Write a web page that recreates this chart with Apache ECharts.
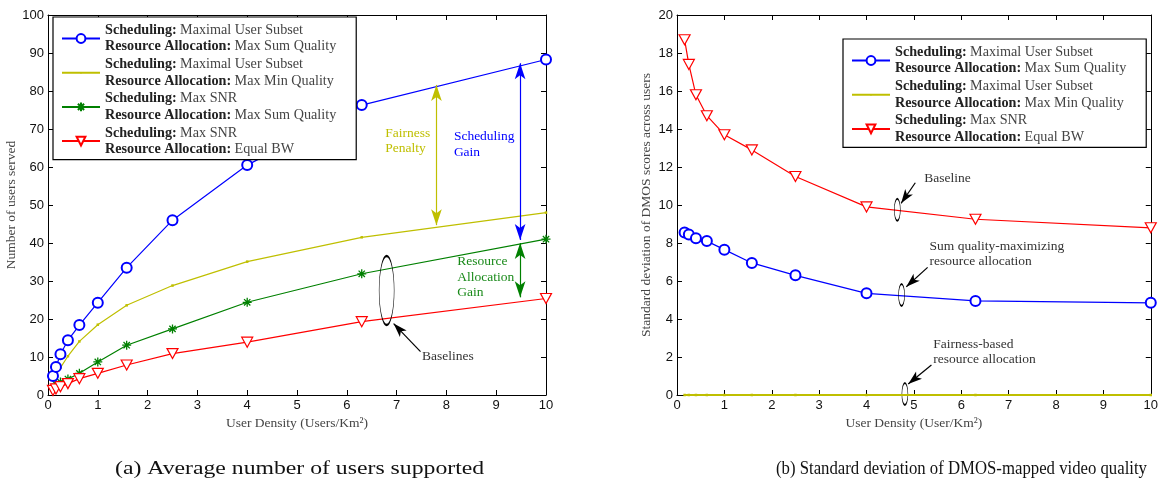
<!DOCTYPE html>
<html><head><meta charset="utf-8">
<script src="https://cdn.jsdelivr.net/npm/echarts@6/dist/echarts.min.js"></script>
<style>html,body{margin:0;padding:0;background:#fff}#c{width:1161px;height:483px}</style>
</head><body><div id="c"></div>
<script>
// ---------- data (a) ----------
const xLeft = [0.1, 0.16, 0.25, 0.4, 0.63, 1, 1.58, 2.5, 4, 6.3, 10];
const blueLeft = [5, 7.4, 10.7, 14.4, 18.4, 24.3, 33.5, 46, 60.5, 76.3, 88.3];
const yellowLeft = [4, 5.3, 7.2, 10.2, 14.1, 18.5, 23.6, 28.8, 35.1, 41.5, 48];
const xGreenLeft = [0.16, 0.25, 0.4, 0.63, 1, 1.58, 2.5, 4, 6.3, 10];
const greenLeft = [2.8, 3.4, 4.2, 5.7, 8.7, 13.1, 17.4, 24.4, 31.9, 41];
const redLeft = [1.2, 1.6, 2.2, 3.0, 4.3, 5.7, 7.9, 10.9, 13.9, 19.3, 25.4];
// ---------- data (b) ----------
const xRight = [0.16, 0.25, 0.4, 0.63, 1, 1.58, 2.5, 4, 6.3, 10];
const blueRight = [8.55, 8.45, 8.25, 8.1, 7.65, 6.95, 6.3, 5.35, 4.95, 4.85];
const yellowRight = [0, 0, 0, 0, 0, 0, 0, 0, 0, 0];
const redRight = [18.7, 17.4, 15.8, 14.7, 13.7, 12.9, 11.5, 9.9, 9.25, 8.8];
// ---------- labels ----------
const legendLeft = [
  ['Maximal User Subset', 'Max Sum Quality'],
  ['Maximal User Subset', 'Max Min Quality'],
  ['Max SNR', 'Max Sum Quality'],
  ['Max SNR', 'Equal BW']
];
const legendRight = [
  ['Maximal User Subset', 'Max Sum Quality'],
  ['Maximal User Subset', 'Max Min Quality'],
  ['Max SNR', 'Equal BW']
];
const captions = ['(a) Average number of users supported', '(b) Standard deviation of DMOS-mapped video quality'];
// ---------- annotations (data coordinates) ----------
const leftDoubleArrows = [[7.8, 81.6, 7.8, 44.7], [9.48, 87.3, 9.48, 40.8], [9.48, 40.0, 9.48, 25.7]];
const leftTexts = [[6.77, 66.9, 'Fairness\nPenalty'], [8.15, 65.9, 'Scheduling\nGain'], [8.22, 31, 'Resource\nAllocation\nGain'], [7.51, 10.1, 'Baselines']];
const leftEllipse = [6.80, 27.5];
const leftPointer = [7.48, 11.4, 6.94, 18.8];
const rightTexts = [[5.22, 11.4, 'Baseline'], [5.33, 7.43, 'Sum quality-maximizing\nresource allocation'], [5.41, 2.26, 'Fairness-based\nresource allocation']];
const rightEllipses = [[4.65, 9.75], [4.74, 5.26], [4.81, 0.05]];
const rightPointers = [[5.03, 11.17, 4.73, 10.09], [5.29, 6.72, 4.84, 5.7], [5.37, 1.58, 4.88, 0.58]];

const BLUE = '#0000ff', YEL = '#bfbf00', GRN = '#008000', RED = '#ff0000';
const SERIF = '"Liberation Serif", "Times New Roman", serif';
const SANS = '"Liberation Sans", Arial, sans-serif';
const STAR = 'path://M0,-5L0,5M-5,0L5,0M-3.5,-3.5L3.5,3.5M-3.5,3.5L3.5,-3.5';
const TRI = 'path://M-5,-4.5L5,-4.5L0,4.5Z';
const DOT = 'path://M-6,-6M6,6M-1,-1L1,-1L1,1L-1,1Z';

const pairs = (xs, ys) => xs.map((x, i) => [x, ys[i]]);

function xAx(grid, top, name) {
  return {
    type: 'value', gridIndex: grid, min: 0, max: 10, interval: 1,
    position: top ? 'top' : 'bottom',
    axisLine: { onZero: false, lineStyle: { color: '#000', width: 1 } },
    axisTick: { inside: true, length: 5, lineStyle: { color: '#000' } },
    axisLabel: { show: !top, color: '#111', fontFamily: SANS, fontSize: 13, margin: 4 },
    splitLine: { show: false },
    name: top ? '' : name, nameLocation: 'middle', nameGap: 21,
    nameTextStyle: { fontFamily: SERIF, fontSize: 13.5, color: '#444' }
  };
}
function yAx(grid, right, max, interval, name, gap) {
  return {
    type: 'value', gridIndex: grid, min: 0, max: max, interval: interval,
    position: right ? 'right' : 'left',
    axisLine: { onZero: false, lineStyle: { color: '#000', width: 1 } },
    axisTick: { inside: true, length: 5, lineStyle: { color: '#000' } },
    axisLabel: { show: !right, color: '#111', fontFamily: SANS, fontSize: 13, margin: 4 },
    splitLine: { show: false },
    name: right ? '' : name, nameLocation: 'middle', nameGap: gap || 0,
    nameTextStyle: { fontFamily: SERIF, fontSize: 13.5, color: '#444' }
  };
}

function legendFmt(list, prefix) {
  return function (name) {
    const i = parseInt(name.slice(prefix.length), 10);
    const e = list[i];
    return '{b|Scheduling:} {n|' + e[0] + '}\n{b|Resource Allocation:} {n|' + e[1] + '}';
  };
}
const legendRich = {
  b: { fontFamily: SERIF, fontWeight: 'bold', fontSize: 14.2, color: '#222', lineHeight: 16.5 },
  n: { fontFamily: SERIF, fontSize: 14.2, color: '#444', lineHeight: 16.5 }
};

function textPoints(list, colors) {
  return list.map((t, i) => ({
    coord: [t[0], t[1]], symbol: 'circle', symbolSize: 0.01,
    label: {
      show: true, position: 'right', distance: 0, align: 'left', verticalAlign: 'middle',
      formatter: t[2], fontFamily: SERIF, fontSize: 13.5, lineHeight: 15.5, color: colors[i]
    }
  }));
}
function ellipsePoints(list, size) {
  return list.map(e => ({
    coord: [e[0], e[1]], symbol: 'circle', symbolSize: size,
    itemStyle: { color: 'rgba(0,0,0,0)', borderColor: '#000', borderWidth: 1.1 },
    label: { show: false }
  }));
}
function arrowLines(list, colors, both) {
  return list.map((a, i) => [
    { coord: [a[0], a[1]], symbol: both ? 'arrow' : 'none', lineStyle: { color: colors[i], width: 1.2, type: 'solid' } },
    { coord: [a[2], a[3]], symbol: 'arrow' }
  ]);
}

const legendBase = {
  orient: 'vertical', z: 10, itemWidth: 38, itemHeight: 11, itemGap: 1.2, padding: [5, 20, 2, 8],
  borderColor: '#000', borderWidth: 1.2, backgroundColor: '#fff',
  textStyle: { rich: legendRich, lineHeight: 16.5 }, selectedMode: false
};

const chart = echarts.init(document.getElementById('c'), null, { renderer: 'canvas' });
const option = {
  animation: false,
  backgroundColor: '#fff',
  grid: [
    { left: 48, top: 15, width: 498, height: 380 },
    { left: 677, top: 15, width: 475, height: 380 }
  ],
  xAxis: [xAx(0, false, 'User Density (Users/Km²)'), xAx(0, true), xAx(1, false, 'User Density (User/Km²)'), xAx(1, true)],
  yAxis: [yAx(0, false, 100, 10, 'Number of users served', 23), yAx(0, true, 100, 10), yAx(1, false, 20, 2, 'Standard deviation of DMOS scores across users', 24), yAx(1, true, 20, 2)],
  legend: [
    Object.assign({}, legendBase, { data: ['L0', 'L1', 'L2', 'L3'], left: 53, top: 17, formatter: legendFmt(legendLeft, 'L') }),
    Object.assign({}, legendBase, { data: ['R0', 'R1', 'R2'], left: 843, top: 39, formatter: legendFmt(legendRight, 'R') })
  ],
  graphic: [
    { type: 'text', x: 115, y: 460, scaleX: 1.318, style: { text: captions[0], font: '18px ' + SERIF, fill: '#111' } },
    { type: 'text', x: 776, y: 460, scaleX: 0.93, style: { text: captions[1], font: '18px ' + SERIF, fill: '#111' } }
  ],
  series: [
    {
      name: 'L0', type: 'line', xAxisIndex: 0, yAxisIndex: 0, data: pairs(xLeft, blueLeft),
      symbol: 'emptyCircle', symbolSize: 10, lineStyle: { color: BLUE, width: 1.2 },
      itemStyle: { color: BLUE, borderWidth: 1.2 }, z: 3,
      markLine: {
        silent: true, symbolSize: [8, 16], label: { show: false },
        data: arrowLines(leftDoubleArrows, [YEL, BLUE, GRN], true)
      },
      markPoint: {
        silent: true,
        data: textPoints(leftTexts, [YEL, BLUE, '#1a8a1a', '#333'])
      }
    },
    {
      name: 'L1', type: 'line', xAxisIndex: 0, yAxisIndex: 0, data: pairs(xLeft, yellowLeft),
      symbol: DOT, symbolSize: 15, lineStyle: { color: YEL, width: 1.2 }, itemStyle: { color: YEL }, z: 2
    },
    {
      name: 'L2', type: 'line', xAxisIndex: 0, yAxisIndex: 0, data: pairs(xGreenLeft, greenLeft),
      symbol: STAR, symbolSize: 9, lineStyle: { color: GRN, width: 1.2 },
      itemStyle: { color: GRN, borderColor: GRN, borderWidth: 1.3 }, z: 2,
      markLine: {
        silent: true, symbolSize: [7, 14], label: { show: false },
        data: arrowLines([leftPointer], ['#000'], false)
      },
      markPoint: { silent: true, data: ellipsePoints([leftEllipse], [15, 69]) }
    },
    {
      name: 'L3', type: 'line', xAxisIndex: 0, yAxisIndex: 0, data: pairs(xLeft, redLeft),
      symbol: TRI, symbolSize: [11, 10], lineStyle: { color: RED, width: 1.2 },
      itemStyle: { color: '#fff', borderColor: RED, borderWidth: 1.2 }, z: 2
    },
    {
      name: 'R0', type: 'line', xAxisIndex: 2, yAxisIndex: 2, data: pairs(xRight, blueRight),
      symbol: 'emptyCircle', symbolSize: 10, lineStyle: { color: BLUE, width: 1.2 },
      itemStyle: { color: BLUE, borderWidth: 1.2 }, z: 3,
      markLine: {
        silent: true, symbolSize: [7, 14], label: { show: false },
        data: arrowLines(rightPointers, ['#000', '#000', '#000'], false)
      },
      markPoint: {
        silent: true,
        data: textPoints(rightTexts, ['#333', '#333', '#333']).concat(ellipsePoints(rightEllipses, [6, 22]))
      }
    },
    {
      name: 'R1', type: 'line', xAxisIndex: 2, yAxisIndex: 2, data: pairs(xRight, yellowRight), clip: false,
      symbol: DOT, symbolSize: 15, lineStyle: { color: YEL, width: 2 }, itemStyle: { color: YEL }, z: 6, zlevel: 1
    },
    {
      name: 'R2', type: 'line', xAxisIndex: 2, yAxisIndex: 2, data: pairs(xRight, redRight),
      symbol: TRI, symbolSize: [11, 10], lineStyle: { color: RED, width: 1.2 },
      itemStyle: { color: '#fff', borderColor: RED, borderWidth: 1.2 }, z: 2
    }
  ]
};
chart.setOption(option);
</script>
</body></html>
